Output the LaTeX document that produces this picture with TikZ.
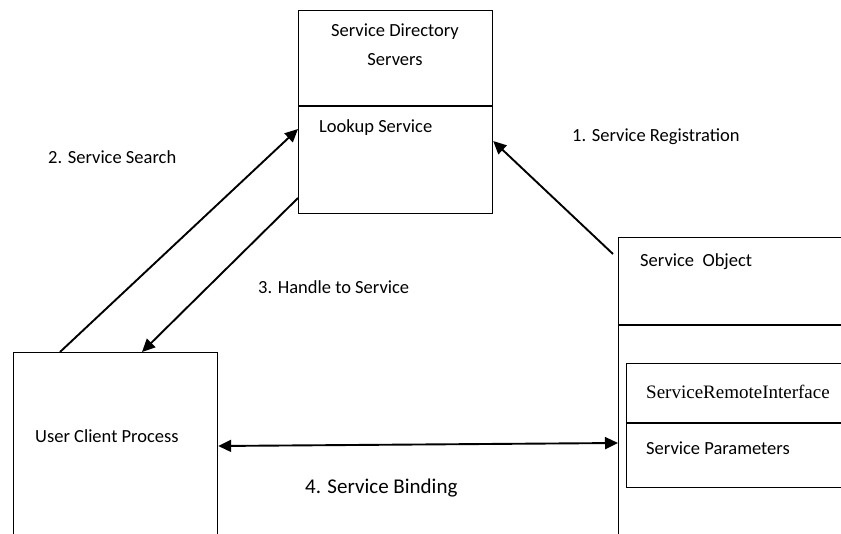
\documentclass[tikz,border=0pt]{standalone}
\usepackage{fontspec}
\setmainfont{Carlito}
\newfontfamily\timesfont{Liberation Serif}
\usetikzlibrary{positioning,arrows.meta}
\tikzset{
box/.style={draw, line width=1.2pt, rectangle, anchor=north west, inner sep=0pt},
lbl/.style={font=\fontsize{18.5}{21}\selectfont, inner sep=0pt},
link/.style={line width=1.9pt, -{Triangle[length=13pt,width=12pt]}}
}
\begin{document}
\begin{tikzpicture}[x=1pt,y=-1pt]
\useasboundingbox (0,0) rectangle (841,533);
\clip (0,0) rectangle (841,533);

% directory servers
\node[box, minimum width=194pt, minimum height=203pt] (dir) at (298,10) {};
\draw[line width=1.2pt] (298,106) -- (492,106);
\node[lbl] (dirname) at (395,32) {Service Directory};
\node[lbl] (dirname2) at (395,60) {Servers};
\node[lbl, anchor=west] (lookup) at (319,128) {Lookup Service};

% service object
\node[box, minimum width=260pt, minimum height=320pt] (obj) at (618,237) {};
\draw[line width=1.2pt] (618,325) -- (841,325);
\node[lbl, anchor=west] (objname) at (640,262) {Service\ \ Object};
\node[box, minimum width=250pt, minimum height=124pt] (inner) at (626,363) {};
\draw[line width=1.2pt] (626,423) -- (841,423);
\node[lbl, anchor=west, font=\timesfont\fontsize{19}{21}\selectfont] (remote) at (646,392) {ServiceRemoteInterface};
\node[lbl, anchor=west] (params) at (646,448) {Service Parameters};

% client
\node[box, minimum width=204pt, minimum height=220pt] (client) at (13,352) {};
\node[lbl, anchor=west] (clientname) at (35,436) {User Client Process};

% end points on the boxes
\coordinate (regfrom) at (613,254);
\coordinate (regto) at (dir.east |- 0,141);
\coordinate (searchfrom) at (client.north -| 60,0);
\coordinate (searchto) at (dir.west |- 0,129);
\coordinate (handfrom) at (dir.west |- 0,198);
\coordinate (handto) at (client.north -| 142,0);
\coordinate (bindl) at (client.east |- 0,446);
\coordinate (bindr) at (obj.west |- 0,443);

\draw[link] (regfrom) -- (regto);
\draw[link] (searchfrom) -- (searchto);
\draw[link] (handfrom) -- (handto);
\draw[link, {Triangle[length=13pt,width=12pt]}-{Triangle[length=13pt,width=12pt]}] (bindl) -- (bindr);

% labels
\node[lbl, anchor=west] (reg) at (572,137) {1. Service Registration};
\node[lbl, anchor=west] (search) at (48,157) {2. Service Search};
\node[lbl, anchor=west] (hand) at (258,287) {3. Handle to Service};
\node[lbl, anchor=west, font=\fontsize{21}{24}\selectfont] (bind) at (305,488) {4. Service Binding};
\end{tikzpicture}
\end{document}
